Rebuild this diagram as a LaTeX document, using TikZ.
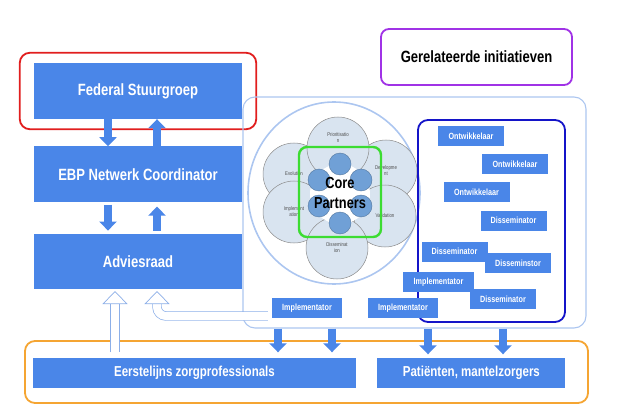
\documentclass[tikz,border=0pt]{standalone}
\usepackage{fontspec}
\setmainfont{Liberation Sans}[FakeStretch=0.8]
\usetikzlibrary{shapes.geometric, arrows.meta, positioning, fit}

\definecolor{boxblue}{RGB}{74,134,232}
\definecolor{openblue}{RGB}{140,175,232}
\definecolor{netblue}{RGB}{172,198,240}
\definecolor{petalfill}{RGB}{217,228,240}
\definecolor{coreblue}{RGB}{112,160,214}
\definecolor{devblue}{RGB}{20,20,200}
\definecolor{steerred}{RGB}{225,30,30}
\definecolor{relpurple}{RGB}{160,50,230}
\definecolor{coregreen}{RGB}{60,220,50}
\definecolor{careorange}{RGB}{245,165,50}

\begin{document}
\begin{tikzpicture}[
    x=1pt, y=-1pt,
    node distance=27pt and 21pt,
    block/.style={rectangle, fill=boxblue, text=white, font=\bfseries\fontsize{16.3}{18}\selectfont, minimum width=208pt, minimum height=56pt, inner sep=0pt},
    lowblock/.style={block, font=\bfseries\fontsize{14.4}{16}\selectfont, minimum height=30pt},
    smallblock/.style={rectangle, fill=boxblue, text=white, font=\bfseries\fontsize{9}{10}\selectfont, minimum width=66pt, minimum height=20pt, inner sep=0pt},
    frame/.style={rectangle, rounded corners=10pt, line width=1.8pt, inner sep=0pt},
    petal/.style={circle, draw=black!45, fill=petalfill, line width=0.5pt, minimum size=62pt, inner sep=0pt, align=center, text=black!70, font=\fontsize{5.4}{6}\selectfont},
    core/.style={circle, draw=coreblue!75!black, fill=coreblue, line width=0.4pt, minimum size=22pt, inner sep=0pt},
    fat/.style={-{Triangle[width=17pt,length=9pt]}, line width=8.5pt, draw=boxblue},
    hollow/.style={draw=openblue, line width=0.7pt, double=white, double distance=8pt, -{Triangle[width=25pt,length=13pt,fill=white,line width=0.7pt]}}
]
\useasboundingbox (0,0) rectangle (623,414);

% Nodes
\node[block] (fed) at (138,91) {Federal Stuurgroep};
\node[block, below=of fed] (ebp) {EBP Netwerk Coordinator};
\node[block, below=31pt of ebp, minimum height=55pt] (advies) {Adviesraad};
\node[frame, draw=steerred, fit=(fed), inner xsep=14pt, inner ysep=10pt] (steer) {};

\node[block, minimum width=191pt, fill=white, draw=relpurple, line width=1.8pt, rounded corners=8pt, text=black] (related) at (476.5,57) {Gerelateerde initiatieven};

\node[lowblock, minimum width=323pt] (eerst) at (194.5,372.5) {Eerstelijns zorgprofessionals};
\node[lowblock, minimum width=188pt, right=of eerst] (patient) {Patiënten, mantelzorgers};
\node[frame, draw=careorange, fit={(25,341) (588,403)}] (carers) {};

% Network with core partners
\node[frame, draw=netblue, line width=1.1pt, rounded corners=12pt, fit={(243,97) (586,328)}] (network) {};
\node[ellipse, draw=netblue, line width=1.6pt, minimum width=172pt, minimum height=182pt, inner sep=0pt] (cycle) at (334,193) {};
\node[petal] (evol) at (294,174) {Evolution};
\node[petal] (devel) at (386,171) {Developme\\nt};
\node[petal] (impl) at (294,212) {Implement\\ation};
\node[petal] (valid) at (385,216) {Validation};
\node[petal, text depth=21pt] (prio) at (338,148) {Prioritisatio\\n};
\node[petal] (dissem) at (337,248) {Disseminat\\ion};
\fill[white] (340,194) circle (30);
\node[core] (c1) at (340,164) {};
\node[core] (c2) at (361,180) {};
\node[core] (c3) at (361,206) {};
\node[core] (c4) at (340,223) {};
\node[core] (c5) at (319,206) {};
\node[core] (c6) at (319,180) {};
\node[frame, draw=coregreen, line width=2.4pt, rounded corners=8pt, fit={(299,147) (381,237)}] (corebox) {};
\node[font=\bfseries\fontsize{16}{20}\selectfont, align=center] (partners) at (340,193) {Core\\Partners};

% Developers and disseminators
\node[frame, draw=devblue, fit={(418,120) (565,322)}] (devs) {};
\node[smallblock] (ont1) at (471,136) {Ontwikkelaar};
\node[smallblock] (ont2) at (515,164) {Ontwikkelaar};
\node[smallblock] (ont3) at (476.5,192) {Ontwikkelaar};
\node[smallblock] (dis1) at (513.5,220.5) {Disseminator};
\node[smallblock] (dis2) at (454.5,251.5) {Disseminator};
\node[smallblock] (dis3) at (518,263) {Disseminstor};
\node[smallblock, minimum width=71pt] (imp3) at (438.5,282) {Implementator};
\node[smallblock] (dis4) at (503,299) {Disseminator};
\node[smallblock, minimum width=70pt] (imp1) at (307,308) {Implementator};
\node[smallblock, minimum width=70pt] (imp2) at (403,308) {Implementator};

\coordinate (up1) at ([xshift=-23pt]advies.south);
\coordinate (up2) at ([xshift=19pt]advies.south);

% Connections
\draw[fat] ([xshift=-30pt]fed.south) -- ([xshift=-30pt]ebp.north);
\draw[fat] ([xshift=19pt]ebp.north) -- ([xshift=19pt]fed.south);
\draw[fat, shorten <=2pt, shorten >=3pt] ([xshift=-30pt]ebp.south) -- ([xshift=-30pt]advies.north);
\draw[fat, shorten <=3pt, shorten >=4pt] ([xshift=19pt]advies.north) -- ([xshift=19pt]ebp.south);
\draw[fat, shorten >=5pt] (278,0 |- network.south) -- (278,0 |- eerst.north);
\draw[fat, shorten >=5pt] (332,0 |- network.south) -- (332,0 |- eerst.north);
\draw[fat, shorten >=3pt] (428,0 |- network.south) -- (428,0 |- patient.north);
\draw[fat, shorten >=3pt] (503,0 |- network.south) -- (503,0 |- patient.north);
\draw[hollow, shorten <=5pt, shorten >=2pt] (up1 |- eerst.north) -- (up1);
\draw[hollow, rounded corners=9pt, shorten >=2pt] ([shift={(-4pt,-8pt)}]imp1.west) -| (up2);

\end{tikzpicture}
\end{document}
